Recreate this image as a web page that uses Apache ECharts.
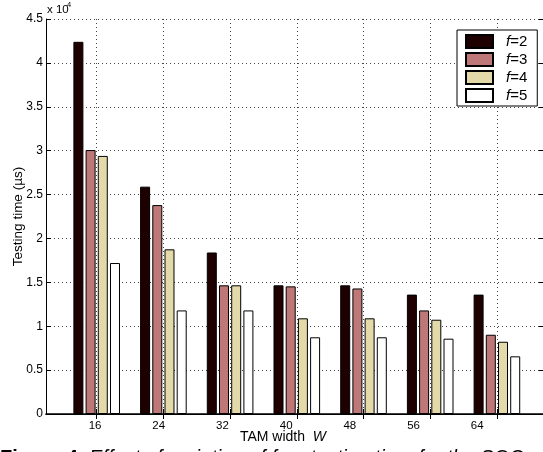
<!DOCTYPE html>
<html>
<head>
<meta charset="utf-8">
<script src="https://cdn.jsdelivr.net/npm/echarts@6/dist/echarts.min.js"></script>
<style>
  html, body { margin: 0; padding: 0; background: #fff; }
  #chart { width: 543px; height: 452px; }
</style>
</head>
<body>
<div id="chart"></div>
<script>
// TAM width W, one group of bars per width
var tamWidths = ['16', '24', '32', '40', '48', '56', '64'];
var seriesNames = ['f=2', 'f=3', 'f=4', 'f=5'];
// testing time in microseconds
var timeF2 = [42400, 25900, 18400, 14660, 14660, 13600, 13600];
var timeF3 = [30070, 23800, 14660, 14540, 14300, 11800, 9030];
var timeF4 = [29400, 18760, 14660, 10900, 10900, 10740, 8230];
var timeF5 = [17200, 11800, 11800, 8740, 8740, 8580, 6570];
var barColors = ['#1e0000', '#bf7878', '#e3d9a9', '#ffffff'];

var font = "'Liberation Sans', Arial, sans-serif";
// x axis is a plain value axis, group i sits at i+1
var xMin = 0.24, xMax = 7.706;
var groupPos = tamWidths.map(function (w, i) { return i + 1; });
// the tick labels in the figure are set a bit tighter than the bars
var labelStart = 0.975, labelStep = 0.955;
var labelPos = tamWidths.map(function (w, i) { return labelStart + i * labelStep; });

var allTimes = [timeF2, timeF3, timeF4, timeF5];
var series = seriesNames.map(function (name, k) {
    return {
        name: name,
        type: 'bar',
        barWidth: 10,
        barGap: '22%',
        itemStyle: { color: barColors[k], borderColor: '#000', borderWidth: 1 },
        data: allTimes[k].map(function (v, i) { return [groupPos[i], v]; })
    };
});

var dotted = { color: '#444', width: 1, type: [1, 3] };

var option = {
    animation: false,
    backgroundColor: '#fff',
    textStyle: { fontFamily: font },
    grid: { left: 46, right: -1, top: 19, bottom: 38, outerBoundsMode: 'none' },
    legend: {
        orient: 'vertical',
        left: 457, top: 30,
        itemWidth: 27, itemHeight: 13, itemGap: 3,
        padding: [4, 10, 3, 8],
        borderColor: '#000', borderWidth: 1,
        backgroundColor: '#fff',
        icon: 'rect',
        data: seriesNames,
        formatter: function (name) {
            return '{i|f}{n|' + name.slice(1) + '}';
        },
        textStyle: {
            fontSize: 15,
            padding: [0, 0, 0, 8],
            rich: {
                i: { fontFamily: font, fontSize: 15, fontStyle: 'italic', color: '#000' },
                n: { fontFamily: font, fontSize: 15, color: '#000' }
            }
        }
    },
    xAxis: [{
        type: 'value', position: 'bottom',
        min: xMin, max: xMax,
        name: '{n|TAM width  }{i|W}',
        nameLocation: 'middle', nameGap: 16,
        nameMoveOverlap: false,
        nameTextStyle: {
            padding: [0, 24, 0, 0],
            rich: {
                n: { fontFamily: font, fontSize: 14, color: '#000' },
                i: { fontFamily: font, fontSize: 14, fontStyle: 'italic', color: '#000' }
            }
        },
        axisLine: { lineStyle: { color: '#000', width: 1.5 } },
        axisTick: { inside: true, length: 5, customValues: groupPos, lineStyle: { color: '#000' } },
        axisLabel: {
            customValues: labelPos,
            margin: 6, fontSize: 11.5, color: '#000',
            formatter: function (v) {
                return tamWidths[Math.round((v - labelStart) / labelStep)];
            }
        },
        splitLine: { show: true, lineStyle: dotted }
    }, {
        type: 'value', position: 'top',
        min: xMin, max: xMax,
        axisLine: { lineStyle: { color: '#000' } },
        axisTick: { inside: true, length: 5, customValues: groupPos, lineStyle: { color: '#000' } },
        axisLabel: { show: false },
        splitLine: { show: false }
    }],
    yAxis: [{
        type: 'value', position: 'left',
        min: 0, max: 45000, interval: 5000,
        name: 'Testing time (\u00b5s)',
        nameLocation: 'middle', nameGap: 21,
        nameMoveOverlap: false,
        nameTextStyle: { fontSize: 13.5, color: '#000' },
        axisLine: { show: true, lineStyle: { color: '#000' } },
        axisTick: { show: true, inside: true, length: 5, lineStyle: { color: '#000' } },
        axisLabel: {
            margin: 3, fontSize: 12, color: '#000',
            formatter: function (v) { return String(v / 10000); }
        },
        splitLine: { show: true, lineStyle: dotted }
    }, {
        type: 'value', position: 'right',
        min: 0, max: 45000, interval: 5000,
        axisLine: { show: true, lineStyle: { color: '#000' } },
        axisTick: { show: true, inside: true, length: 5, lineStyle: { color: '#000' } },
        axisLabel: { show: false },
        splitLine: { show: false }
    }],
    graphic: [
        { type: 'text', left: 47, top: 4, style: { text: 'x 10', fontFamily: font, fontSize: 11.5, fill: '#000' } },
        { type: 'text', left: 67, top: 1, style: { text: '4', fontFamily: font, fontSize: 7.5, fill: '#000' } },
        {
            type: 'text', left: 0, top: 448,
            style: {
                text: '{b|Figure 4.}{t| Effect of variation of }{t|f}{t| on testing time for the SOC}',
                rich: {
                    b: { fontFamily: font, fontSize: 20, fontWeight: 'bold', fill: '#000' },
                    t: { fontFamily: font, fontSize: 20, fontStyle: 'italic', fill: '#000' }
                }
            }
        }
    ],
    series: series
};

var chart = echarts.init(document.getElementById('chart'));
chart.setOption(option);
</script>
</body>
</html>
